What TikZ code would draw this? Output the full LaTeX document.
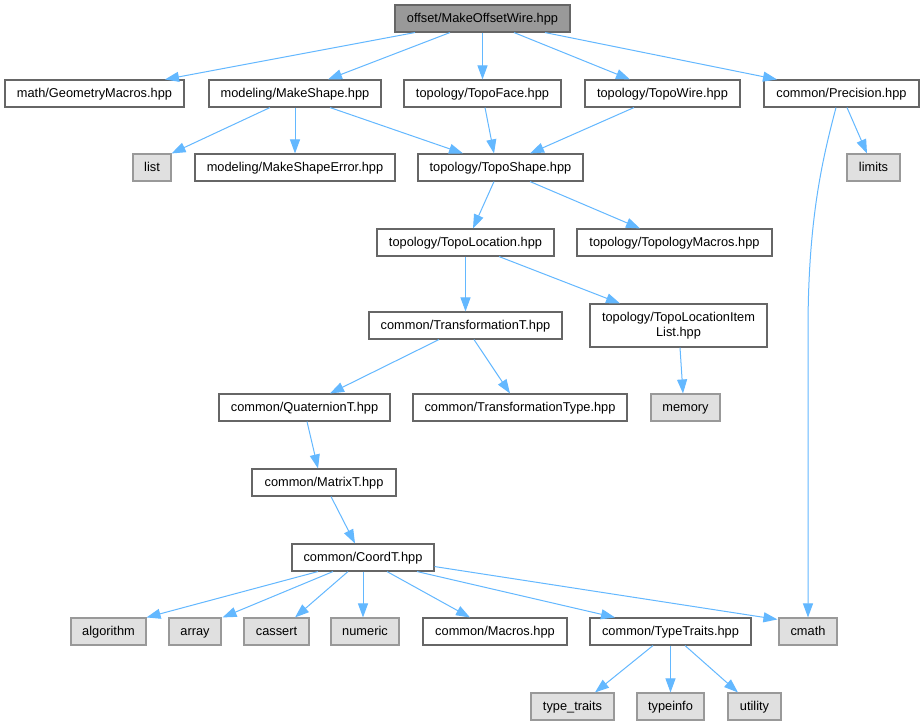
\documentclass[tikz,border=0pt]{standalone}
\usepackage{fontspec}
\setmainfont{Liberation Sans}
\usetikzlibrary{arrows.meta}
\definecolor{edgeblue}{HTML}{63B8FF}
\definecolor{bordergrey}{HTML}{666666}
\definecolor{extborder}{HTML}{999999}
\definecolor{extfill}{HTML}{E0E0E0}
\definecolor{rootfill}{HTML}{999999}
\tikzset{
  basebox/.style={draw=bordergrey, fill=white, line width=1.1pt, minimum height=27pt, inner sep=0pt, font=\fontsize{12.8}{14.5}\selectfont, align=center},
  nbox/.style={basebox, text height=10pt, text depth=2pt},
  rootbox/.style={nbox, fill=rootfill},
  extbox/.style={nbox, draw=extborder, fill=extfill},
  edge/.style={draw=edgeblue, line width=1pt, -{Triangle[length=14pt,width=10pt]}}
}
\begin{document}
\begin{tikzpicture}[x=1pt,y=-1pt]
\useasboundingbox (0,0) rectangle (924,725);
\fill[white] (0,0) rectangle (924,725);
% nodes
\node[rootbox, minimum width=175pt] (root) at (482.5,18.5) {offset/MakeOffsetWire.hpp};
\node[nbox, minimum width=179pt] (geo) at (94.5,93.5) {math/GeometryMacros.hpp};
\node[nbox, minimum width=172pt] (mkshape) at (295,93.5) {modeling/MakeShape.hpp};
\node[nbox, minimum width=157pt] (face) at (482.5,93.5) {topology/TopoFace.hpp};
\node[nbox, minimum width=155pt] (wire) at (662.5,93.5) {topology/TopoWire.hpp};
\node[nbox, minimum width=155pt] (prec) at (841.5,93.5) {common/Precision.hpp};
\node[extbox, minimum width=38pt] (list) at (152,167.5) {list};
\node[nbox, minimum width=200pt] (mkerr) at (295,167.5) {modeling/MakeShapeError.hpp};
\node[nbox, minimum width=165pt] (shape) at (500.5,167.5) {topology/TopoShape.hpp};
\node[extbox, minimum width=53pt] (limits) at (873.5,167.5) {limits};
\node[nbox, minimum width=177pt] (loc) at (465.5,242.5) {topology/TopoLocation.hpp};
\node[nbox, minimum width=195pt] (tmac) at (674.5,242.5) {topology/TopologyMacros.hpp};
\node[nbox, minimum width=193pt] (trans) at (465.5,325.5) {common/TransformationT.hpp};
\node[basebox, minimum width=177pt, minimum height=43pt] (item) at (678.5,325.5) {topology/TopoLocationItem\\List.hpp};
\node[nbox, minimum width=171pt] (quat) at (304.5,407.5) {common/QuaternionT.hpp};
\node[nbox, minimum width=214pt] (ttype) at (520,407.5) {common/TransformationType.hpp};
\node[extbox, minimum width=69pt] (memory) at (685.5,407.5) {memory};
\node[nbox, minimum width=144pt] (matrix) at (324,482.5) {common/MatrixT.hpp};
\node[nbox, minimum width=142pt] (coord) at (363,557.5) {common/CoordT.hpp};
\node[extbox, minimum width=75pt] (algorithm) at (108.5,631.5) {algorithm};
\node[extbox, minimum width=52pt] (array) at (195,631.5) {array};
\node[extbox, minimum width=65pt] (cassert) at (276.5,631.5) {cassert};
\node[extbox, minimum width=68pt] (numeric) at (365,631.5) {numeric};
\node[nbox, minimum width=144pt] (macros) at (495,631.5) {common/Macros.hpp};
\node[nbox, minimum width=161pt] (ttraits) at (670.5,631.5) {common/TypeTraits.hpp};
\node[extbox, minimum width=58pt] (cmath) at (808,631.5) {cmath};
\node[extbox, minimum width=83pt] (typetraits) at (572.5,706.5) {type\_traits};
\node[extbox, minimum width=67pt] (typeinfo) at (670.5,706.5) {typeinfo};
\node[extbox, minimum width=53pt] (utility) at (754.5,706.5) {utility};
% edges
\draw[edge] ([xshift=-67.5pt]root.south) -- ([xshift=70.5pt]geo.north);
\draw[edge] ([xshift=-32.5pt]root.south) -- ([xshift=33pt]mkshape.north);
\draw[edge] (root.south) -- (face.north);
\draw[edge] ([xshift=31.5pt]root.south) -- ([xshift=-32.5pt]wire.north);
\draw[edge] ([xshift=62.5pt]root.south) -- ([xshift=-64.5pt]prec.north);
\draw[edge] ([xshift=-25pt]mkshape.south) -- (list.north east);
\draw[edge] (mkshape.south) -- (mkerr.north);
\draw[edge] ([xshift=35pt]mkshape.south) -- ([xshift=-37.5pt]shape.north);
\draw[edge] ([xshift=2.5pt]face.south) -- ([xshift=-6.5pt]shape.north);
\draw[edge] ([xshift=-28.5pt]wire.south) -- ([xshift=29.5pt]shape.north);
\draw[edge] ([xshift=5.5pt]prec.south) -- ([xshift=-6.5pt]limits.north);
\draw[edge] ([xshift=-5.5pt]prec.south) .. controls ([xshift=-19.5pt,yshift=-53pt]prec.south) and ([xshift=-33.5pt,yshift=-113pt]prec.south) .. ([yshift=-223pt]cmath.north |- prec.south) -- (cmath.north);
\draw[edge] ([xshift=-6.5pt]shape.south) -- ([xshift=7.5pt]loc.north);
\draw[edge] ([xshift=29.5pt]shape.south) -- ([xshift=-34.5pt]tmac.north);
\draw[edge] (loc.south) -- (trans.north);
\draw[edge] ([xshift=33.5pt]loc.south) -- ([xshift=-58.5pt]item.north);
\draw[edge] ([xshift=1.5pt]item.south) -- ([xshift=-2.5pt]memory.north);
\draw[edge] ([xshift=-26.5pt]trans.south) -- ([xshift=25.5pt]quat.north);
\draw[edge] ([xshift=8.5pt]trans.south) -- ([xshift=-10pt]ttype.north);
\draw[edge] ([xshift=2.5pt]quat.south) -- ([xshift=-6pt]matrix.north);
\draw[edge] ([xshift=7pt]matrix.south) -- ([xshift=-8pt]coord.north);
\draw[edge] ([xshift=-45pt]coord.south) -- (algorithm.north east);
\draw[edge] ([xshift=-30pt]coord.south) -- ([xshift=1pt]array.north east);
\draw[edge] ([xshift=-15pt]coord.south) -- ([xshift=18.5pt]cassert.north);
\draw[edge] (coord.south) -- ([xshift=-2pt]numeric.north);
\draw[edge] ([xshift=24pt]coord.south) -- ([xshift=-25pt]macros.north);
\draw[edge] ([xshift=54pt]coord.south) -- ([xshift=-55.5pt]ttraits.north);
\draw[edge] ([yshift=5pt]coord.south east) -- ([xshift=-1pt,yshift=-2pt]cmath.north west);
\draw[edge] ([xshift=-17.5pt]ttraits.south) -- ([xshift=22.5pt]typetraits.north);
\draw[edge] (ttraits.south) -- (typeinfo.north);
\draw[edge] ([xshift=14.5pt]ttraits.south) -- ([xshift=-16.5pt]utility.north);
\end{tikzpicture}
\end{document}
